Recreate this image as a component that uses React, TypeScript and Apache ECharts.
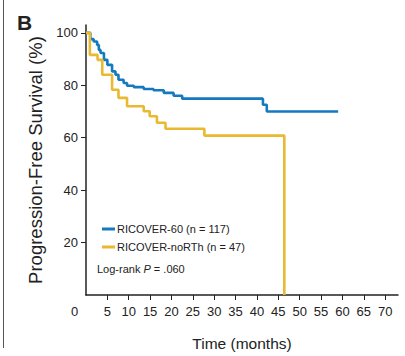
import React, { useEffect, useRef } from "react";
import * as echarts from "echarts";

const blueTimes = [0, 1.0, 1.8, 2.6, 3.0, 3.4, 4.2, 5.0, 6.1, 6.9, 7.6, 8.8, 9.6, 11.2, 13.5, 15.8, 18.2, 20.5, 22.5, 41.4, 42.3, 59];
const blueValues = [100, 97.6, 96.7, 95.4, 93.5, 92.3, 89.7, 87.8, 85.3, 84, 82.1, 80.9, 79.8, 79.3, 78.6, 78.1, 77.1, 76, 74.9, 72.6, 70, 70];
const yellowTimes = [0, 0.9, 2.7, 3.8, 6.1, 7.6, 9.6, 13.5, 14.9, 16.6, 18.6, 27.7, 46.4];
const yellowValues = [100, 91.6, 89.7, 84, 78.3, 75.2, 72, 70.1, 68.2, 65.7, 63.4, 60.8, 0];
const seriesNames = ["RICOVER-60 (n = 117)", "RICOVER-noRTh (n = 47)"];
const xTicks = [0, 5, 10, 15, 20, 25, 30, 35, 40, 45, 50, 55, 60, 65, 70];
const yTicks = [20, 40, 60, 80, 100];

const BLUE = "#1579c0";
const YELLOW = "#e9b92f";
const SANS = "'Liberation Sans', Arial, sans-serif";

export default function App() {
  const ref = useRef<HTMLDivElement>(null);
  useEffect(() => {
    const chart = echarts.init(ref.current!, null, { renderer: "svg" });
    const pairs = (t: number[], v: number[]) => t.map((x, i) => [x, v[i]]);
    chart.setOption({
      animation: false,
      backgroundColor: "#ffffff",
      grid: { left: 86, right: 7, top: 25, bottom: 60, containLabel: false },
      xAxis: {
        type: "value",
        min: 0,
        max: 73,
        interval: 5,
        name: "Time (months)",
        nameLocation: "middle",
        nameGap: 40,
        nameTextStyle: { fontFamily: SANS, fontSize: 15.5, color: "#222" },
        axisLine: { show: true, lineStyle: { color: "#222", width: 1.5 } },
        axisTick: { show: true, length: 5, customValues: xTicks.slice(1), lineStyle: { color: "#222" } },
        axisLabel: {
          customValues: xTicks,
          margin: 10,
          fontFamily: SANS,
          fontSize: 13,
          color: "#222",
          formatter: (v: number) => (v === 0 ? "{z|0}" : String(v)),
          rich: { z: { fontFamily: SANS, fontSize: 13, color: "#222", padding: [0, 23, 0, 0] } },
        },
        splitLine: { show: false },
      },
      yAxis: {
        type: "value",
        min: 0,
        max: 103,
        interval: 20,
        name: "Progression-Free Survival (%)",
        nameLocation: "middle",
        nameGap: 29,
        nameTextStyle: { fontFamily: SANS, fontSize: 18.5, color: "#222" },
        axisLine: { show: true, lineStyle: { color: "#222", width: 1.5 } },
        axisTick: { show: true, length: 5, customValues: yTicks, lineStyle: { color: "#222" } },
        axisLabel: { customValues: yTicks, margin: 8, fontFamily: SANS, fontSize: 13, color: "#222" },
        splitLine: { show: false },
      },
      legend: {
        orient: "vertical",
        left: 97,
        top: 217,
        icon: "rect",
        itemWidth: 13,
        itemHeight: 3,
        itemGap: 4,
        textStyle: { fontFamily: SANS, fontSize: 11, color: "#222", lineHeight: 14, padding: [0, 0, 0, -3] },
        data: seriesNames,
      },
      series: [
        {
          name: seriesNames[0],
          type: "line",
          step: "end",
          showSymbol: false,
          symbol: "none",
          data: pairs(blueTimes, blueValues),
          lineStyle: { color: BLUE, width: 2.6 },
          itemStyle: { color: BLUE },
        },
        {
          name: seriesNames[1],
          type: "line",
          step: "end",
          showSymbol: false,
          symbol: "none",
          data: pairs(yellowTimes, yellowValues),
          lineStyle: { color: YELLOW, width: 2.6 },
          itemStyle: { color: YELLOW },
        },
      ],
      graphic: [
        { type: "line", shape: { x1: 3.5, y1: 0, x2: 3.5, y2: 348 }, style: { stroke: "#555", lineWidth: 1 } },
        { type: "text", left: 17, top: 12, style: { text: "B", font: "bold 21px 'Liberation Sans', Arial, sans-serif", fill: "#222" } },
        {
          type: "text",
          left: 97,
          top: 263,
          style: {
            text: "Log-rank {i|P} = .060",
            font: "11px " + SANS,
            fill: "#222",
            rich: { i: { fontStyle: "italic", fontFamily: SANS, fontSize: 11, fill: "#222" } },
          },
        },
      ],
    });
    return () => chart.dispose();
  }, []);
  return <div ref={ref} style={{ position: "fixed", left: 0, top: 0, width: 405, height: 356 }} />;
}
